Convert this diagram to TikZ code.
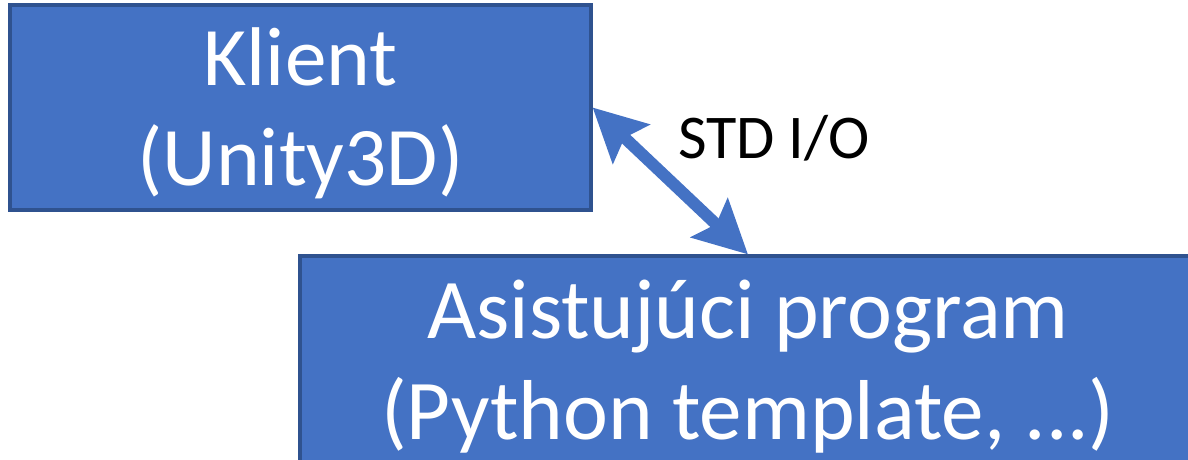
\documentclass[tikz,border=0pt]{standalone}
\usepackage{fontspec}
\setmainfont{Carlito}
\usetikzlibrary{positioning, arrows.meta}

\definecolor{boxblue}{HTML}{4472C4}
\definecolor{boxedge}{HTML}{2F528F}

\begin{document}
\begin{tikzpicture}[every node/.style={inner sep=0pt}, scale=1,
        box/.style={rectangle, draw=boxedge, line width=0.9pt, fill=boxblue, text=white, align=center,
            font=\fontsize{23.7}{28.5}\selectfont},
        link/.style={{Stealth[length=15pt, width=15pt, inset=2.5pt]}-{Stealth[length=15pt, width=15pt, inset=2.5pt]}, line width=3.4pt, draw=boxblue}]
        \useasboundingbox (0,0) rectangle (11.88,4.6);

        \node[box, minimum width=5.81cm, minimum height=2.05cm] (k) at (3.005,3.525) {\rule{0pt}{20pt}Klient\\(Unity3D)};
        \node[box, minimum width=8.96cm, minimum height=2.22cm, font=\fontsize{24.2}{28.8}\selectfont] (a) at (7.48,0.93) {Asistujúci program\\(Python template, ...)};

        % STD I/O link
        \draw[link] (k.east) -- (a.north);
        \node[anchor=base, font=\fontsize{17.7}{21}\selectfont] (io) at (7.74,3.01) {STD I/O};
    \end{tikzpicture}
\end{document}
